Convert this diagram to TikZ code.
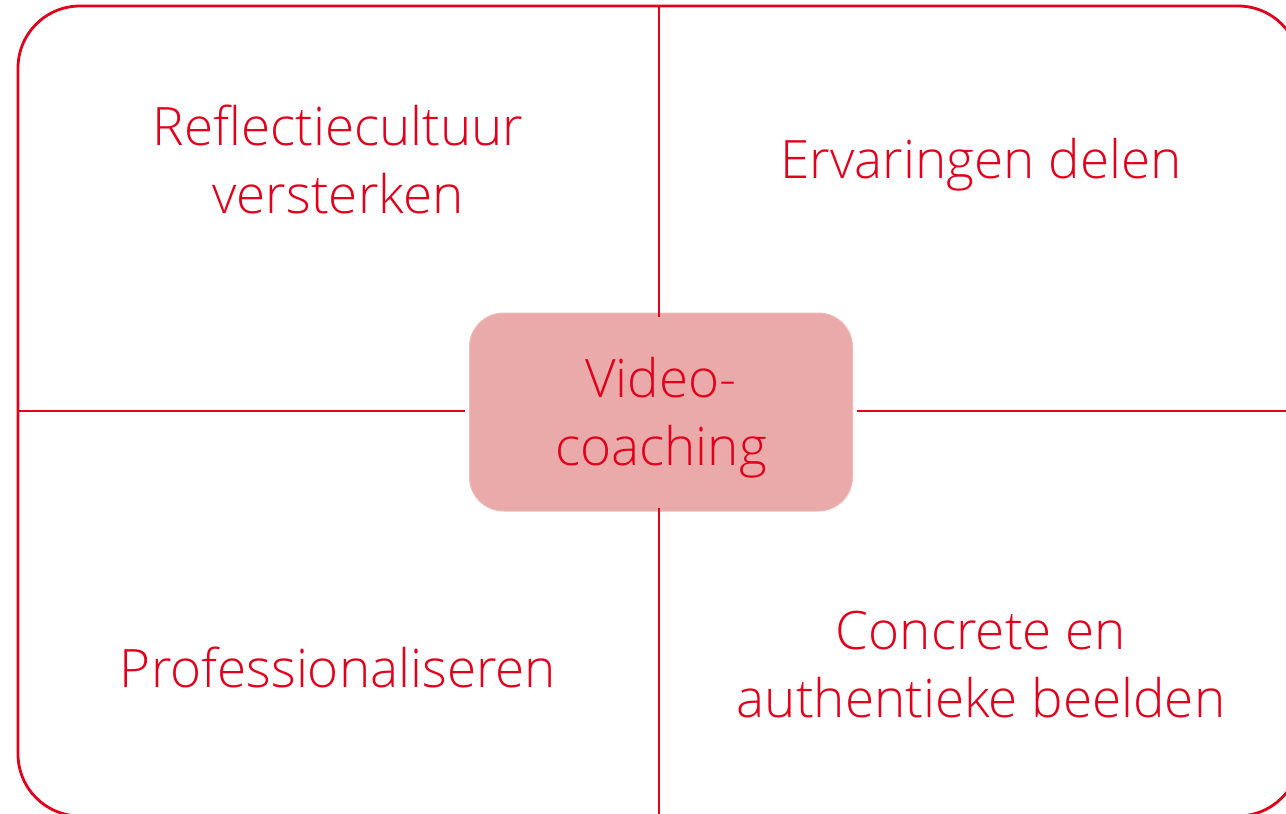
\documentclass[tikz,border=0pt]{standalone}
\usepackage{fontspec}
\setmainfont{Open Sans}[UprightFont=* Light]
\definecolor{cred}{RGB}{225,0,28}
\definecolor{cfill}{RGB}{235,170,170}
\begin{document}
\begin{tikzpicture}[x=1pt,y=-1pt,
  frame/.style={draw=cred,line width=2.8pt},
  divider/.style={draw=cred,line width=2.4pt},
  label/.style={text=cred,font=\fontsize{53}{68}\selectfont,align=center,inner sep=0pt},
  hub/.style={fill=cfill,draw=cfill!80!white,line width=1pt,rounded corners=34pt,minimum width=383pt,minimum height=198pt,inner sep=0pt}]
\useasboundingbox (0,0) rectangle (1286,814);
\begin{scope}
\clip (0,0) rectangle (1286,814);
\draw[frame,rounded corners=62pt] (18,6) rectangle (1300,816);
\node[hub] (c) at (661,412) {};
\coordinate (t) at (659,6);
\coordinate (b) at (659,816);
\coordinate (l) at (18,411);
\coordinate (r) at (1300,411);
\draw[divider] (t) -- ([yshift=-4pt]c.north -| t);
\draw[divider] ([yshift=4pt]c.south -| b) -- (b);
\draw[divider] (l) -- ([xshift=-4pt]c.west |- l);
\draw[divider] ([xshift=4pt]c.east |- r) -- (r);
\end{scope}
\node[label] (ct) at ([yshift=-6pt]c.center) {Video-\\coaching};
\node[label] (q1) at (338,159) {Reflectiecultuur\\versterken};
\node[label] (q2) at (981,165) {Ervaringen delen};
\node[label] (q3) at (338,667) {Professionaliseren};
\node[label] (q4) at (981,665) {Concrete en\\authentieke beelden};
\end{tikzpicture}
\end{document}
